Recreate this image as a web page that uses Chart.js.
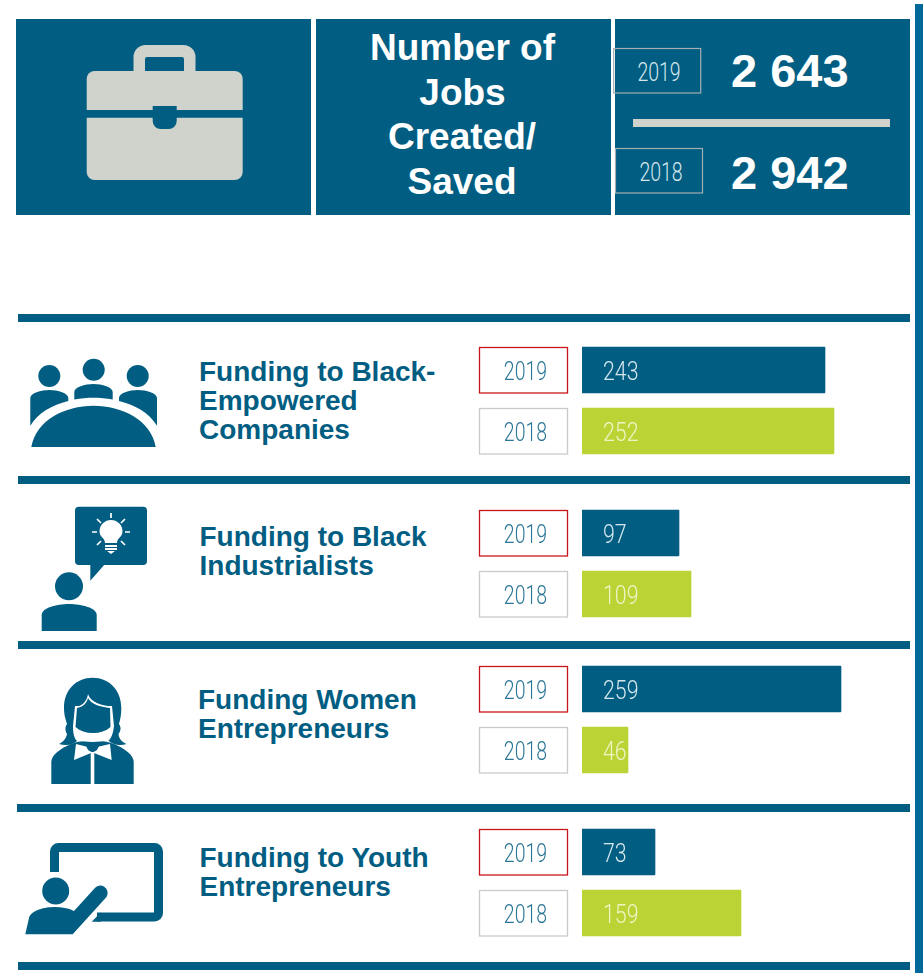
<!DOCTYPE html>
<html>
<head>
<meta charset="utf-8">
<title>Number of Jobs Created/Saved</title>
<script src="https://cdn.jsdelivr.net/npm/chart.js@4"></script>
<style>
  html, body { margin: 0; padding: 0; background: #fff; }
  #page { position: relative; width: 923px; height: 973px; overflow: hidden; }
  #page svg { position: absolute; left: 0; top: 0; }
  #page canvas { position: absolute; left: 470px; }
  .head { font: bold 37px "Liberation Sans"; fill: #fff; text-anchor: middle; }
  .big { font: bold 47px "Liberation Sans"; fill: #fff; }
  .row { font: bold 28px "Liberation Sans"; fill: #015e82; }
  .yr { font: 300 26px Roboto; fill: #d5e6ec; text-anchor: middle; }
</style>
</head>
<body>
<div id="page">
  <svg width="923" height="973" xmlns="http://www.w3.org/2000/svg">
    <!-- header panels -->
    <rect x="915" y="4" width="8" height="969" fill="#01689c"/>
    <rect x="16" y="19" width="295" height="196" fill="#015e82"/>
    <rect x="316" y="19" width="295" height="196" fill="#015e82"/>
    <rect x="615" y="19" width="295" height="196" fill="#015e82"/>

    <!-- briefcase -->
    <g fill="#d0d2cc">
      <path fill-rule="evenodd" d="M133.5 72V57a12 12 0 0 1 12-12h38a12 12 0 0 1 12 12v15zM145 72h39V59a2 2 0 0 0-2-2h-35a2 2 0 0 0-2 2z"/>
      <path d="M86.7 110V79a8 8 0 0 1 8-8h140a8 8 0 0 1 8 8v31z"/>
      <path d="M86.7 117.7h156V172a8 8 0 0 1-8 8h-140a8 8 0 0 1-8-8z"/>
    </g>
    <path d="M152.7 106h24v15a8 8 0 0 1-8 8h-8a8 8 0 0 1-8-8z" fill="#015e82"/>

    <text class="head" x="462.5" y="60">Number of</text>
    <text class="head" x="462.5" y="105">Jobs</text>
    <text class="head" x="462" y="149">Created/</text>
    <text class="head" x="462" y="194">Saved</text>

    <rect x="613.7" y="48.5" width="87" height="44.5" fill="none" stroke="#a3adb2" stroke-width="1.2"/>
    <rect x="615.5" y="148.5" width="87" height="44.5" fill="none" stroke="#a3adb2" stroke-width="1.2"/>
    <text class="yr" id="topYear0" transform="translate(659 81) scale(.75 1)"></text>
    <text class="yr" id="topYear1" transform="translate(661 181) scale(.75 1)"></text>
    <text class="big" id="topJobs0" x="731" y="87"></text>
    <text class="big" id="topJobs1" x="731" y="189"></text>
    <rect x="633" y="119" width="257" height="8" fill="#d0d2cc"/>

    <!-- section rules -->
    <g fill="#015e82">
      <rect x="18" y="314" width="892" height="8"/>
      <rect x="18" y="476" width="892" height="8"/>
      <rect x="18" y="641" width="892" height="8"/>
      <rect x="17" y="804" width="893" height="8"/>
      <rect x="18" y="962" width="892" height="8"/>
    </g>

    <g id="rowTitles"></g>

    <!-- people round a table -->
    <g fill="#015e82">
      <circle cx="49.3" cy="376" r="11"/>
      <circle cx="93.7" cy="369.7" r="11"/>
      <circle cx="137.7" cy="376" r="11"/>
      <path d="M31.3 447C36 420 65 405.7 93.5 405.7S151 420 155.7 447z"/>
      <path d="M74.3 399.5V392C74.3 387 85 384 93.5 384S112.7 387 112.7 392V399.5C100 397 87 397 74.3 399.5z"/>
      <path d="M30.3 425.7V398C30.3 393 41 390 49.5 390S68.3 393 68.3 398V401C52 405 38 413 30.3 425.7z"/>
      <path d="M157 425.7V398C157 393 146.3 390 137.8 390S119 393 119 398V401C135.3 405 149.3 413 157 425.7z"/>
    </g>

    <!-- person with idea -->
    <g fill="#015e82">
      <rect x="75" y="506.7" width="72" height="58.3" rx="4"/>
      <path d="M90.3 564V580.7L105 564z"/>
      <circle cx="69" cy="586.3" r="14"/>
      <path d="M41.7 631V615C41.7 608 56 604 69 604S96.7 608 96.7 615V631z"/>
    </g>
    <g fill="#fff" stroke="none">
      <path d="M105 543C105 538 99.5 537 99.5 531.5A11.5 11.5 0 0 1 122.5 531.5C122.5 537 117 538 117 543z"/>
      <rect x="105" y="545" width="12" height="2"/>
      <rect x="105" y="548" width="12" height="2"/>
      <path d="M107 551H115L111 554z"/>
    </g>
    <g stroke="#fff" stroke-width="1.7" fill="none">
      <path d="M111 513v5M97 519l4 4M125 519l-4 4M92 532h5M125 532h5M97 545l4-4M125 545l-4-4"/>
    </g>

    <!-- woman -->
    <g fill="#015e82">
      <path d="M92.7 677.7C76 677.7 64 690 64 708C64 716 66 720 67 724C64 728 66 732 67 734C66 739 63 742 59 744C66 746 74 745 78 740H108C112 745 120 746 126.7 744C122 742 119 739 118.5 734C120 732 122 728 119 724C120 720 121.3 716 121.3 708C121.3 690 109 677.7 92.7 677.7z"/>
      <path d="M51.3 784V762C51.3 752 72 740 92.5 740S133.7 752 133.7 762V784z"/>
    </g>
    <path d="M75 706H79C84 704 87 700 88 694C90 700 96 704 108 706H112L114 726C113 734 111 739 108 741L92.5 742 77 741C74 738 73 733 73 726z" fill="#fff"/>
    <path d="M77 708C83 707 87 703 88 698C91 704 100 707 110 708L110.5 727C106 731 100 733 93 733S80 731 75.5 727z" fill="#015e82"/>
    <path d="M76 744L88 747H97L110 744 111.7 760 94 753H91L74 760z" fill="#fff"/>
    <rect x="90.7" y="752" width="3.6" height="32" fill="#fff"/>
    <path d="M86 745H99C98 750 95 752 92.5 752S87 750 86 745z" fill="#015e82"/>

    <!-- teacher at the board -->
    <path d="M54.5 872V851.5a4 4 0 0 1 4-4H154.5a4 4 0 0 1 4 4V913a4 4 0 0 1-4 4H97" fill="none" stroke="#015e82" stroke-width="9"/>
    <path d="M100.7 912.5V921.7H91.7z" fill="#015e82"/>
    <circle cx="55.7" cy="891" r="13.5" fill="#015e82"/>
    <path d="M25.3 934.3L29 918C31 910 45 907 55 907C62 907 68 908 74 911L94 889A6.5 6.5 0 0 1 106.5 897L72.7 934.3z" fill="#015e82"/>
  </svg>

  <canvas id="chart0" width="430" height="123" style="top:339px"></canvas>
  <canvas id="chart1" width="430" height="123" style="top:502px"></canvas>
  <canvas id="chart2" width="430" height="123" style="top:658px"></canvas>
  <canvas id="chart3" width="430" height="123" style="top:821px"></canvas>
</div>

<script>
const years = ['2019', '2018'];
const jobsLabels = ['2 643', '2 942'];
const rowTitles = [
  ['Funding to Black-', 'Empowered', 'Companies'],
  ['Funding to Black', 'Industrialists'],
  ['Funding Women', 'Entrepreneurs'],
  ['Funding to Youth', 'Entrepreneurs']
];
// printed values. the bars in the source picture are not to scale with these,
// here they all share one zero based axis so lengths differ a bit from it
const funding2019 = [243, 97, 259, 73];
const funding2018 = [252, 109, 46, 159];

const BLUE = '#015e82';
const GREEN = '#bbd335';
const THIN_FONT = '300 26px Roboto';

// text bits of the svg that come from the data
years.forEach((y, i) => {
  document.getElementById('topYear' + i).textContent = y;
  document.getElementById('topJobs' + i).textContent = jobsLabels[i];
});

const titleSpots = [
  { x: 199, y: 381 },
  { x: 199.5, y: 546 },
  { x: 198, y: 709 },
  { x: 199.5, y: 867 }
];
const $titles = document.getElementById('rowTitles');
rowTitles.forEach((lines, i) => {
  lines.forEach((line, j) => {
    const t = document.createElementNS('http://www.w3.org/2000/svg', 'text');
    t.setAttribute('class', 'row');
    t.setAttribute('x', titleSpots[i].x);
    t.setAttribute('y', titleSpots[i].y + j * 29);
    t.textContent = line;
    $titles.appendChild(t);
  });
});

// condensed light look, no narrow light font is installed
function thinText(ctx, text, x, y, color, align, squeeze) {
  ctx.save();
  ctx.translate(x, y);
  ctx.scale(squeeze, 1);
  ctx.font = THIN_FONT;
  ctx.fillStyle = color;
  ctx.textAlign = align;
  ctx.textBaseline = 'middle';
  ctx.fillText(text, 0, 3);
  ctx.restore();
}

// boxed year labels on the y axis, value labels inside the bars
const yearBoxes = {
  id: 'yearBoxes',
  afterDatasetsDraw(chart) {
    const ctx = chart.ctx;
    const yScale = chart.scales.y;
    const bars = chart.getDatasetMeta(0).data;
    yScale.getLabels().forEach((label, i) => {
      const py = yScale.getPixelForValue(i);
      ctx.save();
      ctx.strokeStyle = i === 0 ? '#c8161d' : '#c9cbcb';
      ctx.lineWidth = 1.3;
      ctx.strokeRect(9.5, py - 22.5, 88, 45.5);
      ctx.restore();
      thinText(ctx, label, 55.5, py, '#2c7797', 'center', 0.75);
      const value = chart.data.datasets[0].data[i];
      thinText(ctx, String(value), bars[i].base + 21, py, i === 0 ? '#d5e6ec' : '#eef5c4', 'left', 0.82);
    });
  }
};

function makeRow(index) {
  new Chart(document.getElementById('chart' + index), {
    type: 'bar',
    plugins: [yearBoxes],
    data: {
      labels: years,
      datasets: [{
        data: [funding2019[index], funding2018[index]],
        backgroundColor: [BLUE, GREEN],
        barThickness: 46,
        borderRadius: 1
      }]
    },
    options: {
      indexAxis: 'y',
      responsive: false,
      animation: false,
      layout: { padding: { top: 0.5, bottom: 0.5, left: 0, right: 0 } },
      plugins: { legend: { display: false }, tooltip: { enabled: false } },
      scales: {
        x: { display: false, min: 0, max: 318 },
        y: {
          grid: { display: false },
          border: { display: false },
          ticks: { display: false },
          afterFit(scale) { scale.width = 112; }
        }
      }
    }
  });
}

window.onload = () => {
  rowTitles.forEach((t, i) => makeRow(i));
};
</script>
</body>
</html>
